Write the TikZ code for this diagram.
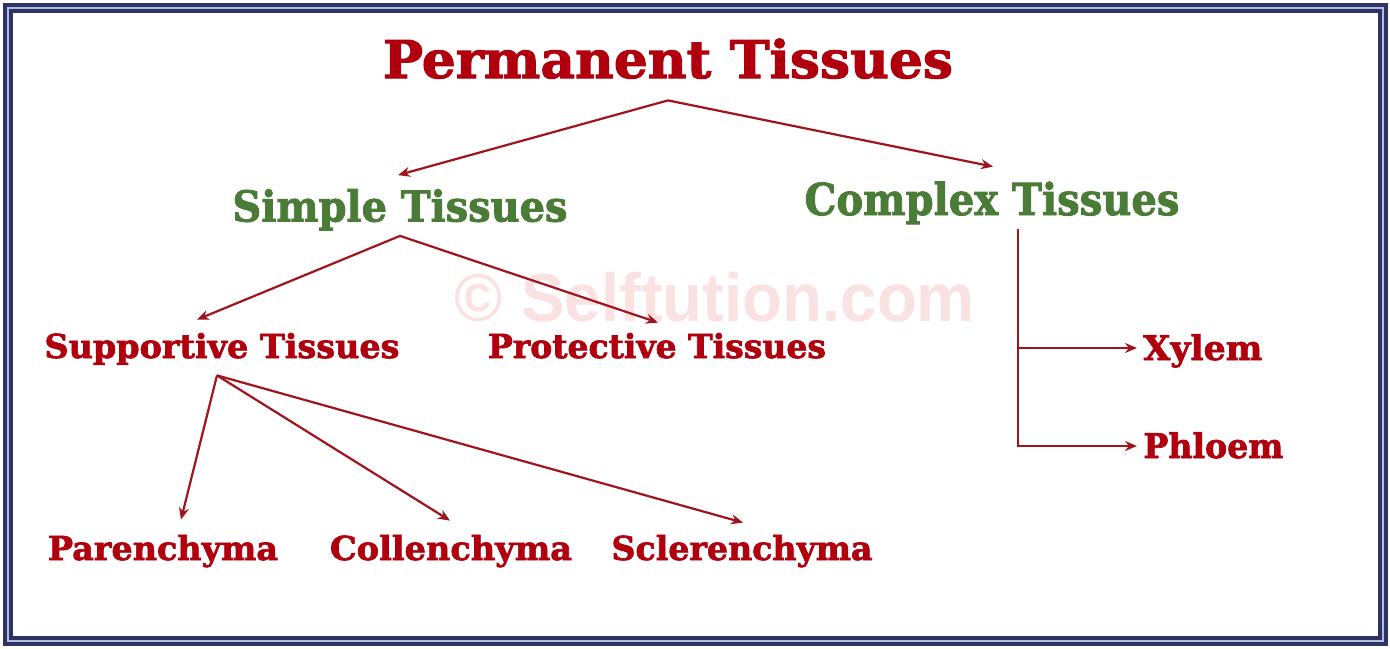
\documentclass[tikz,border=0pt]{standalone}
\usepackage{fontspec}
\usepackage{graphicx}
\newfontfamily\cf{DejaVu Serif Bold}[FakeBold=2]
\newfontfamily\wf{Liberation Sans Bold}
\usetikzlibrary{arrows.meta,calc}
\definecolor{tred}{HTML}{B0000E}
\definecolor{tgreen}{HTML}{4A7C38}
\definecolor{ared}{HTML}{A0141E}
\definecolor{navy}{HTML}{2E3366}
\definecolor{lnavy}{HTML}{B4BCDC}
\definecolor{wmpink}{HTML}{FBE2E2}
\newcommand{\fitw}[2]{\resizebox{#1}{\height}{#2}}
\begin{document}
\begin{tikzpicture}[x=0.5pt,y=-0.5pt,
  arr/.style={draw=ared, line width=1.1pt, -{Stealth[length=6pt,width=5pt]}},
  lab/.style={inner sep=0pt,text depth=0pt,text height=#1,font=\cf},
  wmk/.style={inner sep=0pt,text=wmpink,font=\wf}]
\useasboundingbox (0,0) rectangle (1390,648);
\fill[white] (0,0) rectangle (1390,648);
\draw[navy,line width=5pt] (8,8) rectangle (1383,641);
\draw[lnavy,line width=1pt] (8,8) rectangle (1383,641);

\node[wmk] (wm) at (715,297) {\fitw{260pt}{\fontsize{34}{34}\selectfont \textcopyright{} Selftution.com}};

\node[lab=19pt,text=tred] (pt) at (668,59) {\fitw{285pt}{\fontsize{26}{26}\selectfont Permanent Tissues}};
\node[lab=15.5pt,text=tgreen] (st) at (400,206) {\fitw{167.5pt}{\fontsize{21.3}{22}\selectfont Simple Tissues}};
\node[lab=16pt,text=tgreen] (ct) at (992,199) {\fitw{187.5pt}{\fontsize{22}{22}\selectfont Complex Tissues}};
\node[lab=12pt,text=tred] (sup) at (222,346) {\fitw{177.5pt}{\fontsize{16.5}{17}\selectfont Supportive Tissues}};
\node[lab=12pt,text=tred] (pro) at (657,346) {\fitw{169pt}{\fontsize{16.5}{17}\selectfont Protective Tissues}};
\node[lab=12pt,text=tred,anchor=west] (xyl) at (1143,348) {\fitw{59.5pt}{\fontsize{17}{17}\selectfont Xylem}};
\node[lab=12pt,text=tred,anchor=west] (phl) at (1143,446) {\fitw{70pt}{\fontsize{17}{17}\selectfont Phloem}};
\node[lab=12pt,text=tred] (par) at (163,548) {\fitw{115pt}{\fontsize{16.5}{17}\selectfont Parenchyma}};
\node[lab=12pt,text=tred] (col) at (451,548) {\fitw{121pt}{\fontsize{16.5}{17}\selectfont Collenchyma}};
\node[lab=12pt,text=tred] (scl) at (742,548) {\fitw{130.5pt}{\fontsize{16.5}{17}\selectfont Sclerenchyma}};

\coordinate (a1) at ($(pt.south)+(0,22)$);
\draw[arr] (a1) -- ($(st.north)+(-2,-15)$);
\draw[arr] (a1) -- ($(ct.north)+(1,-16)$);
\coordinate (a2) at ($(st.south)+(0,14)$);
\draw[arr] (a2) -- ($(sup.north)+(-25,-14)$);
\draw[arr] (a2) -- ($(pro.north)+(1,-11)$);
\coordinate (a3) at ($(sup.south)+(-5,17)$);
\draw[arr] (a3) -- ($(par.north)+(18,-16)$);
\draw[arr] (a3) -- ($(col.north)+(-1,-15)$);
\draw[arr] (a3) -- ($(scl.north)+(1,-13)$);
\coordinate (a4) at ($(ct.south)+(26,14)$);
\draw[arr] (a4) |- ($(phl.west)+(-6,0)$);
\draw[arr] (a4 |- xyl.west) -- ($(xyl.west)+(-6,0)$);
\end{tikzpicture}
\end{document}
